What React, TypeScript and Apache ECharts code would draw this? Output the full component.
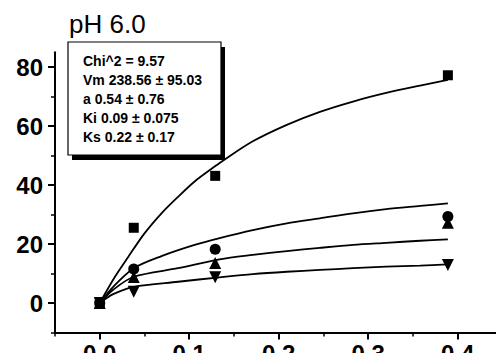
import React, { useEffect, useRef } from "react";
import * as echarts from "echarts";

const FONT = '"Liberation Sans", Arial, Helvetica, sans-serif';

const chartTitle = "pH 6.0";
const statsLines = [
  "Chi^2 = 9.57",
  "Vm 238.56 ± 95.03",
  "a 0.54 ± 0.76",
  "Ki 0.09 ± 0.075",
  "Ks 0.22 ± 0.17",
];

// measured points
const pointX = [0, 0.038, 0.129, 0.389];
const squareY = [0, 25.5, 43.1, 77.2];
const circleY = [0, 11.5, 18.2, 29.3];
const triUpY = [0, 8.8, 13.6, 27.2];
const triDownY = [0, 3.8, 8.7, 12.9];

// fitted curves
const curve1X = [0, 0.017, 0.032, 0.05, 0.069, 0.0875, 0.106, 0.125, 0.136, 0.171, 0.209, 0.246, 0.283, 0.32, 0.358, 0.389];
const curve1Y = [0, 8.9, 15.7, 23.6, 30.4, 36.0, 41.2, 45.5, 47.9, 54.8, 60.4, 64.8, 68.3, 71.2, 73.7, 75.6];
const curve2X = [0, 0.015, 0.038, 0.069, 0.106, 0.134, 0.171, 0.209, 0.246, 0.283, 0.32, 0.358, 0.389];
const curve2Y = [0, 5.5, 11.8, 15.9, 19.7, 22.0, 24.7, 27.0, 28.7, 30.4, 31.8, 32.9, 33.8];
const curve3X = [0, 0.015, 0.038, 0.0875, 0.134, 0.171, 0.209, 0.246, 0.283, 0.32, 0.358, 0.389];
const curve3Y = [0, 4.5, 8.9, 11.8, 14.8, 16.3, 17.6, 18.7, 19.7, 20.4, 21.1, 21.6];
const curve4X = [0, 0.015, 0.038, 0.0875, 0.134, 0.171, 0.209, 0.246, 0.283, 0.32, 0.358, 0.389];
const curve4Y = [0, 3.0, 5.5, 7.2, 8.7, 9.8, 10.6, 11.2, 11.8, 12.3, 12.7, 13.1];

// axes
const xMajorTicks = [0, 0.1, 0.2, 0.3, 0.4];
const xMinorTicks = [-0.05, 0.05, 0.15, 0.25, 0.35];
const yMajorTicks = [0, 20, 40, 60, 80];
const yMinorTicks = [-10, 10, 30, 50, 70];
const xMin = -0.05;
const xMax = 0.445;
const yMin = -10;
const yMax = 85;

const zip = (xs: number[], ys: number[]) => xs.map((x, i) => [x, ys[i]]);

export default function App() {
  const ref = useRef<HTMLDivElement>(null);
  useEffect(() => {
    if (!ref.current) return;
    const chart = echarts.init(ref.current, undefined, { renderer: "svg" });
    const lineSeries = (xs: number[], ys: number[]) => ({
      type: "line",
      data: zip(xs, ys),
      showSymbol: false,
      smooth: 0.3,
      lineStyle: { color: "#000", width: 1.8 },
      silent: true,
      z: 2,
    });
    const scatterSeries = (ys: number[], symbol: string, size: number, rotate = 0) => ({
      type: "scatter",
      data: zip(pointX, ys),
      symbol,
      symbolSize: size,
      symbolRotate: rotate,
      itemStyle: { color: "#000", opacity: 1 },
      z: 3,
    });
    const axisCommon = {
      type: "value",
      splitLine: { show: false },
    };
    chart.setOption({
      animation: false,
      backgroundColor: "#fff",
      title: {
        text: chartTitle,
        left: 69,
        top: 11,
        padding: 0,
        textStyle: { fontFamily: FONT, fontSize: 26, fontWeight: "normal", color: "#000" },
      },
      grid: {
        left: 55,
        top: 52.25,
        width: 443,
        height: 280.25,
        containLabel: false,
        outerBoundsMode: "none",
      },
      xAxis: [
        {
          ...axisCommon,
          position: "bottom",
          min: xMin,
          max: xMax,
          axisLine: { show: true, onZero: false, lineStyle: { color: "#000", width: 2 } },
          axisTick: { show: true, customValues: xMajorTicks, length: 7, lineStyle: { color: "#000", width: 2 } },
          axisLabel: {
            show: true,
            customValues: xMajorTicks,
            formatter: (v: number) => v.toFixed(1),
            margin: 9,
            fontFamily: FONT,
            fontSize: 24,
            fontWeight: "bold",
            color: "#000",
          },
        },
        {
          ...axisCommon,
          position: "bottom",
          min: xMin,
          max: xMax,
          axisLine: { show: false, onZero: false },
          axisTick: { show: true, customValues: xMinorTicks, length: 4, lineStyle: { color: "#000", width: 1.5 } },
          axisLabel: { show: false },
        },
      ],
      yAxis: [
        {
          ...axisCommon,
          position: "left",
          min: yMin,
          max: yMax,
          axisLine: { show: true, onZero: false, lineStyle: { color: "#000", width: 2 } },
          axisTick: { show: true, customValues: yMajorTicks, length: 7, lineStyle: { color: "#000", width: 2 } },
          axisLabel: {
            show: true,
            customValues: yMajorTicks,
            formatter: (v: number) => String(v),
            margin: 12,
            fontFamily: FONT,
            fontSize: 24,
            fontWeight: "bold",
            color: "#000",
          },
        },
        {
          ...axisCommon,
          position: "left",
          min: yMin,
          max: yMax,
          axisLine: { show: false, onZero: false },
          axisTick: { show: true, customValues: yMinorTicks, length: 4, lineStyle: { color: "#000", width: 1.5 } },
          axisLabel: { show: false },
        },
      ],
      series: [
        lineSeries(curve1X, curve1Y),
        lineSeries(curve2X, curve2Y),
        lineSeries(curve3X, curve3Y),
        lineSeries(curve4X, curve4Y),
        scatterSeries(squareY, "rect", 10),
        scatterSeries(circleY, "circle", 11),
        scatterSeries(triUpY, "triangle", 12),
        scatterSeries(triDownY, "triangle", 12, 180),
      ],
      graphic: [
        {
          type: "rect",
          shape: { x: 72, y: 47, width: 153, height: 113 },
          style: { fill: "#000" },
          z: 100,
          silent: true,
        },
        {
          type: "rect",
          shape: { x: 68, y: 42, width: 153, height: 113 },
          style: { fill: "#fff", stroke: "#000", lineWidth: 1.2 },
          z: 101,
          silent: true,
        },
        ...statsLines.map((t, i) => ({
          type: "text",
          x: 83,
          y: 61 + i * 19,
          z: 102,
          silent: true,
          style: {
            text: t,
            fill: "#000",
            font: `bold 14px ${FONT}`,
            textAlign: "left",
            textVerticalAlign: "middle",
          },
        })),
      ],
    });
    return () => chart.dispose();
  }, []);
  return (
    <div
      ref={ref}
      style={{ position: "fixed", left: 0, top: 0, width: 496, height: 353, background: "#fff" }}
    />
  );
}
